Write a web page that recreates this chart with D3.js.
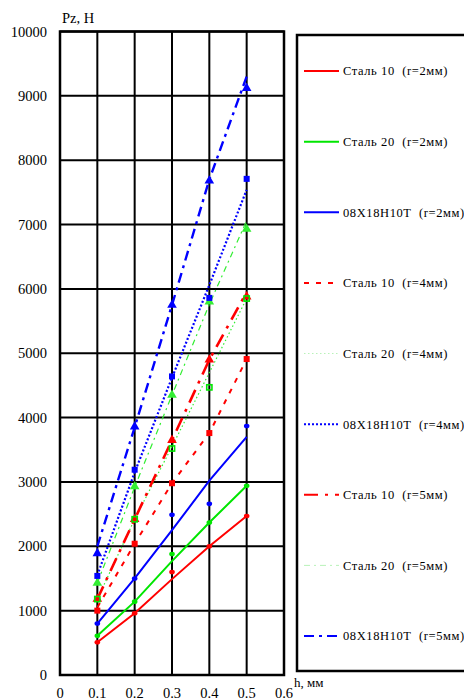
<!DOCTYPE html>
<html>
<head>
<meta charset="utf-8">
<script src="https://cdn.jsdelivr.net/npm/d3@7"></script>
<style>
  html, body { margin: 0; padding: 0; background: #fff; }
  svg { display: block; }
</style>
</head>
<body>
<div id="chart"></div>
<script>
// h, mm
const hValues = [0.1, 0.2, 0.3, 0.4, 0.5];

const seriesNames = [
  'Сталь 10  (r=2мм)', 'Сталь 20  (r=2мм)', '08Х18Н10Т  (r=2мм)',
  'Сталь 10  (r=4мм)', 'Сталь 20  (r=4мм)', '08Х18Н10Т  (r=4мм)',
  'Сталь 10  (r=5мм)', 'Сталь 20  (r=5мм)', '08Х18Н10Т  (r=5мм)'
];

// fitted lines, Pz (H)
const lineS10r2 = [510, 960, 1490, 2000, 2470];
const lineS20r2 = [610, 1140, 1770, 2370, 2940];
const lineX18r2 = [800, 1500, 2250, 3020, 3700];
const lineS10r4 = [1050, 2040, 2980, 3760, 4910];
const lineS20r4 = [1180, 2420, 3550, 4700, 5850];
const lineX18r4 = [1550, 3150, 4620, 6060, 7540];
const lineS10r5 = [1180, 2420, 3650, 4900, 5950];
const lineS20r5 = [1430, 2920, 4350, 5760, 7060];
const lineX18r5 = [2000, 3850, 5750, 7700, 9300];

// measured points, Pz (H)
const ptsS10r2 = [510, 960, 1600, 2000, 2470];
const ptsS20r2 = [610, 1140, 1880, 2370, 2940];
const ptsX18r2 = [800, 1500, 2490, 2660, 3870];
const ptsS10r4 = [1000, 2040, 2980, 3760, 4910];
const ptsS20r4 = [1180, 2420, 3520, 4470, 5850];
const ptsX18r4 = [1540, 3190, 4640, 5860, 7710];
const ptsS10r5 = [1180, 2420, 3650, 4900, 5880];
const ptsS20r5 = [1430, 2930, 4350, 5800, 6930];
const ptsX18r5 = [1890, 3860, 5750, 7680, 9120];

const xTicks = [0, 0.1, 0.2, 0.3, 0.4, 0.5, 0.6];
const xTickLabels = ['0', '0.1', '0.2', '0.3', '0.4', '0.5', '0.6'];
const yTicks = [0, 1000, 2000, 3000, 4000, 5000, 6000, 7000, 8000, 9000, 10000];

const lines = [lineS10r2, lineS20r2, lineX18r2, lineS10r4, lineS20r4, lineX18r4, lineS10r5, lineS20r5, lineX18r5];
const points = [ptsS10r2, ptsS20r2, ptsX18r2, ptsS10r4, ptsS20r4, ptsX18r4, ptsS10r5, ptsS20r5, ptsX18r5];

// styles
const RED = '#ff0000', GREEN = '#00e600', BLUE = '#0000ff';
const FONT = '"Liberation Serif", "Times New Roman", Times, serif';
const styles = [
  { color: RED, width: 2, dash: null, marker: 'circle' },
  { color: GREEN, width: 2, dash: null, marker: 'circle' },
  { color: BLUE, width: 2, dash: null, marker: 'circle' },
  { color: RED, width: 2, dash: '5,7', marker: 'square' },
  { color: '#33ee33', width: 1.2, dash: '1.5,2.5', marker: 'openSquare', legendColor: '#b8f2b8' },
  { color: BLUE, width: 2.2, dash: '2,2', marker: 'square' },
  { color: RED, width: 2.6, dash: '14,7,3,7', marker: 'triangle' },
  { color: '#33ee33', width: 1.2, dash: '6,4,2,4', marker: 'triangle', legendColor: '#b8f2b8' },
  { color: BLUE, width: 2.4, dash: '10,5,3,5', marker: 'triangle' }
];

const W = 464, H = 698;
const svg = d3.select('#chart').append('svg')
  .attr('width', W).attr('height', H)
  .attr('font-family', FONT);

const x = d3.scaleLinear().domain([0, 0.6]).range([60, 284]);
const y = d3.scaleLinear().domain([0, 10000]).range([675, 31.5]);

// grid
const grid = svg.append('g');
grid.selectAll('line.v').data(xTicks).enter().append('line')
  .attr('x1', d => x(d)).attr('x2', d => x(d))
  .attr('y1', y(0)).attr('y2', y(10000))
  .attr('stroke', '#000').attr('stroke-width', 2);
grid.selectAll('line.h').data(yTicks).enter().append('line')
  .attr('x1', x(0)).attr('x2', x(0.6))
  .attr('y1', d => y(d)).attr('y2', d => y(d))
  .attr('stroke', '#000').attr('stroke-width', 2);
svg.append('rect')
  .attr('x', x(0)).attr('y', y(10000))
  .attr('width', x(0.6) - x(0)).attr('height', y(0) - y(10000))
  .attr('fill', 'none').attr('stroke', '#000').attr('stroke-width', 2.5);

// tick labels
svg.selectAll('text.ylab').data(yTicks).enter().append('text')
  .attr('font-family', FONT)
  .attr('x', 47).attr('y', d => y(d)).attr('dy', '0.35em')
  .attr('text-anchor', 'end').attr('font-size', 14.5)
  .text(d => d);
svg.selectAll('text.xlab').data(xTicks).enter().append('text')
  .attr('font-family', FONT)
  .attr('x', d => x(d)).attr('y', 698)
  .attr('text-anchor', 'middle').attr('font-size', 14.5)
  .text((d, i) => xTickLabels[i]);

svg.append('text').attr('font-family', FONT).attr('x', 62).attr('y', 23).attr('font-size', 14.5).text('Pz, H');
svg.append('text').attr('font-family', FONT).attr('x', 294).attr('y', 687).attr('font-size', 13).text('h, мм');

// series lines
const lineGen = d3.line().x(d => x(d[0])).y(d => y(d[1]));
const plot = svg.append('g');
lines.forEach((vals, i) => {
  const s = styles[i];
  plot.append('path')
    .datum(hValues.map((h, j) => [h, vals[j]]))
    .attr('d', lineGen)
    .attr('fill', 'none')
    .attr('stroke', s.color)
    .attr('stroke-width', s.width)
    .attr('stroke-dasharray', s.dash);
});

// markers, last series first so r=2 ones end on top
const triangle = d3.symbol().type(d3.symbolTriangle).size(40);
for (let i = points.length - 1; i >= 0; i--) {
  const s = styles[i];
  const g = plot.append('g');
  points[i].forEach((v, j) => {
    const cx = x(hValues[j]), cy = y(v);
    if (s.marker === 'circle') {
      g.append('ellipse').attr('cx', cx).attr('cy', cy).attr('rx', 2.8).attr('ry', 2.3).attr('fill', s.color);
    } else if (s.marker === 'square') {
      g.append('rect').attr('x', cx - 3).attr('y', cy - 3).attr('width', 6).attr('height', 6).attr('fill', s.color);
    } else if (s.marker === 'openSquare') {
      g.append('rect').attr('x', cx - 2.6).attr('y', cy - 2.6).attr('width', 5.2).attr('height', 5.2)
        .attr('fill', 'none').attr('stroke', GREEN).attr('stroke-width', 1.6);
    } else {
      g.append('path').attr('d', triangle).attr('transform', `translate(${cx},${cy})`).attr('fill', s.color);
    }
  });
}

// legend
svg.append('rect')
  .attr('x', 297).attr('y', 35).attr('width', 200).attr('height', 636)
  .attr('fill', 'none').attr('stroke', '#000').attr('stroke-width', 2.5);
const legendY = d3.scaleLinear().domain([0, 8]).range([71, 636]);
const legend = svg.append('g');
seriesNames.forEach((name, i) => {
  const s = styles[i];
  const ly = legendY(i);
  legend.append('line')
    .attr('x1', 304).attr('x2', 339).attr('y1', ly).attr('y2', ly)
    .attr('stroke', s.legendColor || s.color)
    .attr('stroke-width', s.legendColor ? 1 : 2)
    .attr('stroke-dasharray', s.dash);
  legend.append('text')
    .attr('font-family', FONT)
    .attr('x', 343).attr('y', ly).attr('dy', '0.35em')
    .attr('font-size', 12.5).attr('letter-spacing', 0.6)
    .style('white-space', 'pre')
    .text(name);
});
</script>
</body>
</html>
